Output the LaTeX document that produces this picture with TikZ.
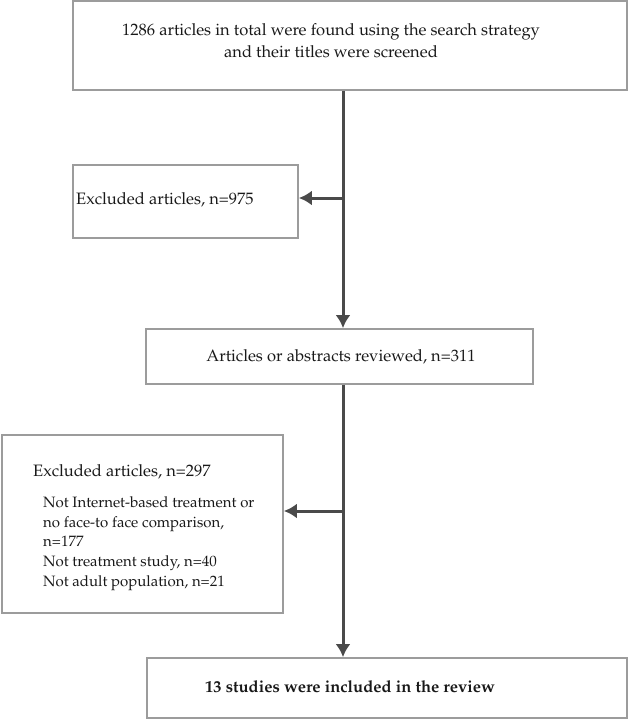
\documentclass[tikz,border=0pt]{standalone}
\usepackage[T1]{fontenc}
\usepackage{mathpazo}
\usetikzlibrary{arrows.meta}
\definecolor{boxgray}{HTML}{9C9C9C}
\definecolor{flowgray}{HTML}{4A4A4A}
\tikzset{
  box/.style={draw=boxgray, line width=1.8pt, inner sep=0pt, fill=white},
  flow/.style={draw=flowgray, line width=3pt, -{Latex[length=13pt,width=15pt]}},
  txt/.style={inner sep=0pt, text=black!90, font=\fontsize{16.5}{22}\selectfont},
  subtxt/.style={inner sep=0pt, text=black!90, font=\fontsize{15}{19.7}\selectfont},
}
\begin{document}
\begin{tikzpicture}[x=1pt, y=-1pt]
  \useasboundingbox (0,0) rectangle (628,720);

  \node[box, minimum width=554pt, minimum height=89pt] (search) at (350,45.5) {};
  \node[box, minimum width=225pt, minimum height=73pt] (excl1) at (185.5,201.5) {};
  \node[box, minimum width=387pt, minimum height=55pt] (review) at (339.5,356.5) {};
  \node[box, minimum width=281pt, minimum height=178pt] (excl2) at (142.5,524) {};
  \node[box, minimum width=480pt, minimum height=60pt] (incl) at (387,688) {};

  \node[txt, align=center] (searchtext) at (331,41)
    {1286 articles in total were found using the search strategy\\ and their titles were screened};
  \node[txt, anchor=west] (excl1text) at (76,200) {Excluded articles, n=975};
  \node[txt] (reviewtext) at (341,357) {Articles or abstracts reviewed, n=311};
  \node[txt, anchor=west] (excl2text) at (33,472) {Excluded articles, n=297};
  \node[subtxt, anchor=west, align=left] (reasons) at (43,543.5)
    {Not Internet-based treatment or\\ no face-to face comparison,\\ n=177\\ Not treatment study, n=40\\ Not adult population, n=21};
  \node[txt, font=\fontsize{16.5}{22}\selectfont\bfseries] (incltext) at (350,687)
    {13 studies were included in the review};

  \coordinate (split1) at (343,198);
  \coordinate (split2) at (343,511);
  \draw[flow] (search.south -| split1) -- (review.north -| split1);
  \draw[flow] (review.south -| split2) -- (incl.north -| split2);
  \draw[flow] (split1) -- (split1 -| excl1.east);
  \draw[flow] (split2) -- (split2 -| excl2.east);
\end{tikzpicture}
\end{document}
